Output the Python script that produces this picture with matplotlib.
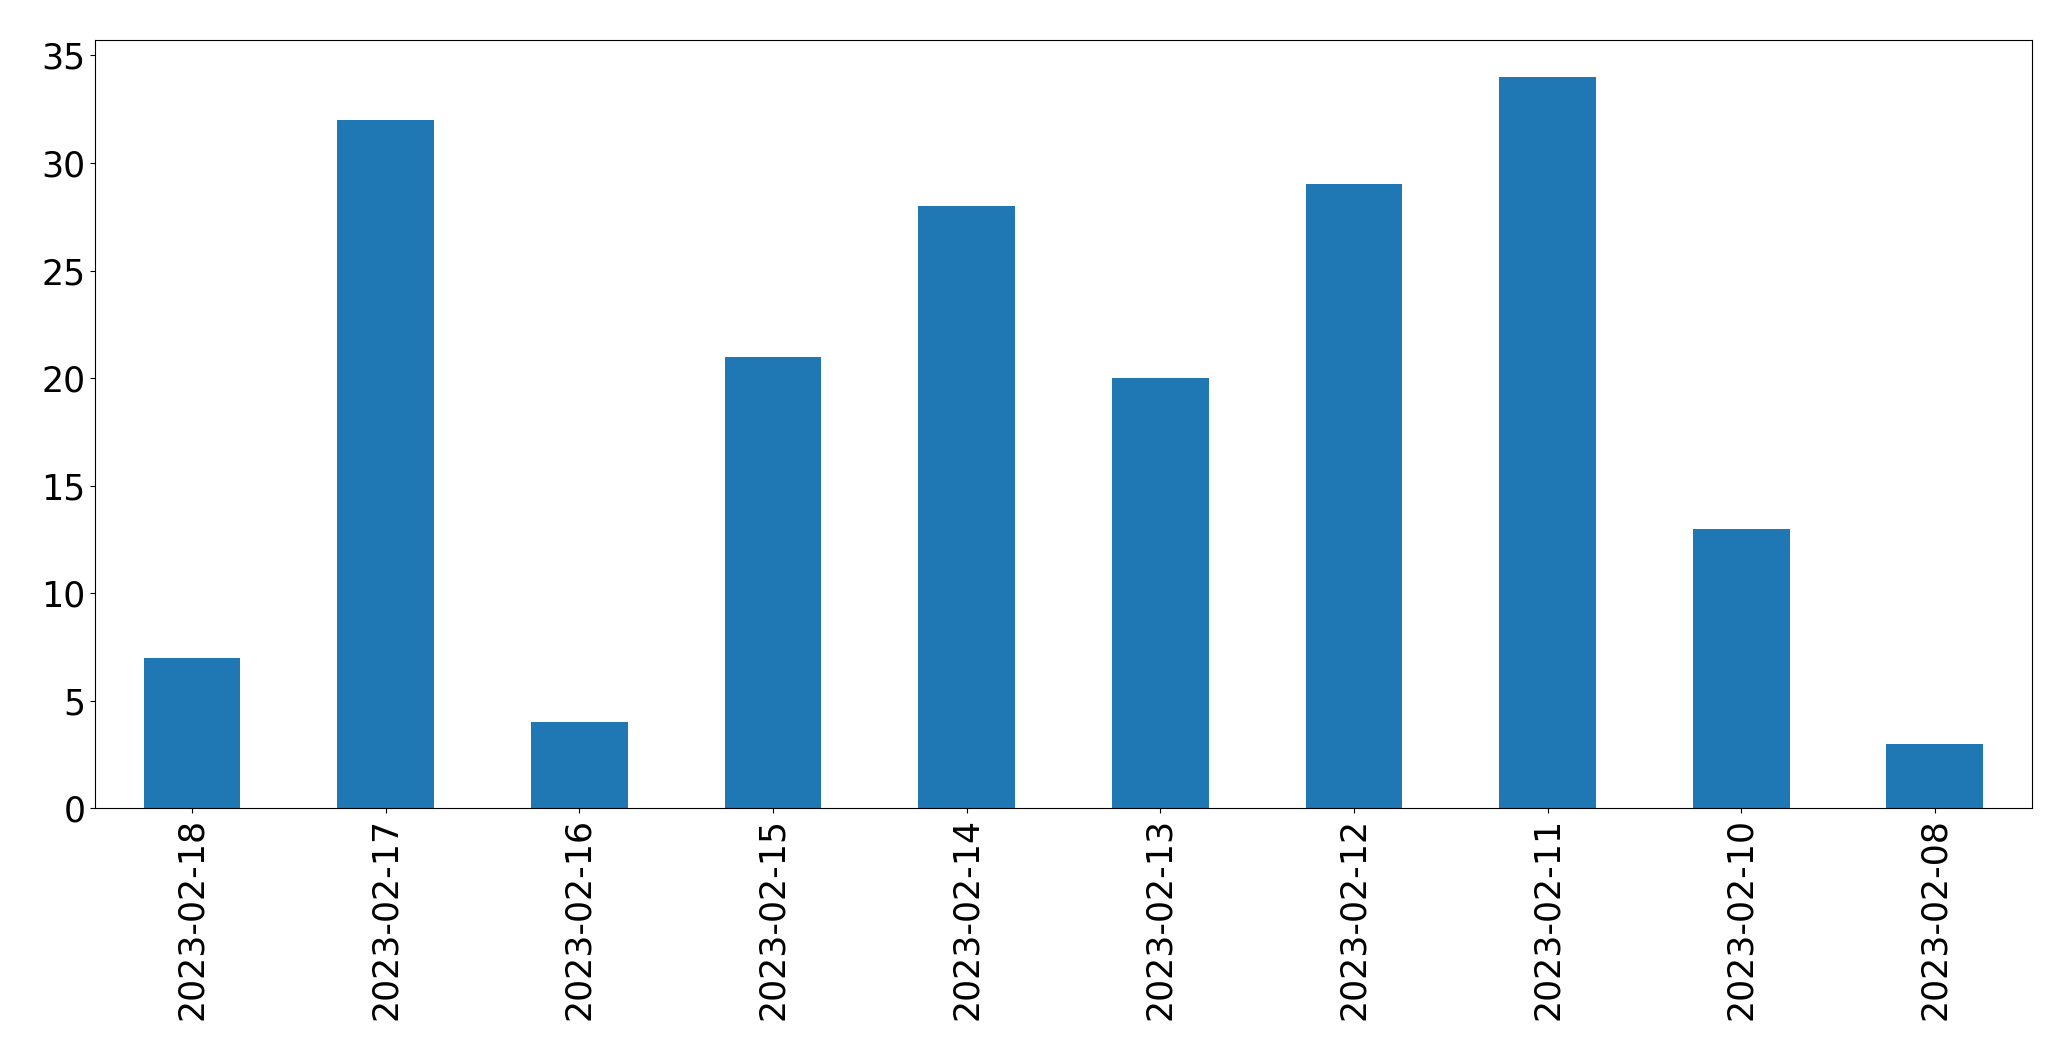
import matplotlib
matplotlib.use("Agg")
import matplotlib.pyplot as plt
import pandas as pd

dates = ["2023-02-18", "2023-02-17", "2023-02-16", "2023-02-15", "2023-02-14",
         "2023-02-13", "2023-02-12", "2023-02-11", "2023-02-10", "2023-02-08"]
counts = [7, 32, 4, 21, 28, 20, 29, 34, 13, 3]

s = pd.Series(counts, index=dates)
fig, ax = plt.subplots(figsize=(20.71, 10.61), dpi=100)
s.plot(kind="bar", ax=ax, color="#1f77b4")
ax.tick_params(labelsize=25)
fig.subplots_adjust(left=0.046, right=0.981, top=0.962, bottom=0.238)
fig.savefig("out.png", dpi=100)
